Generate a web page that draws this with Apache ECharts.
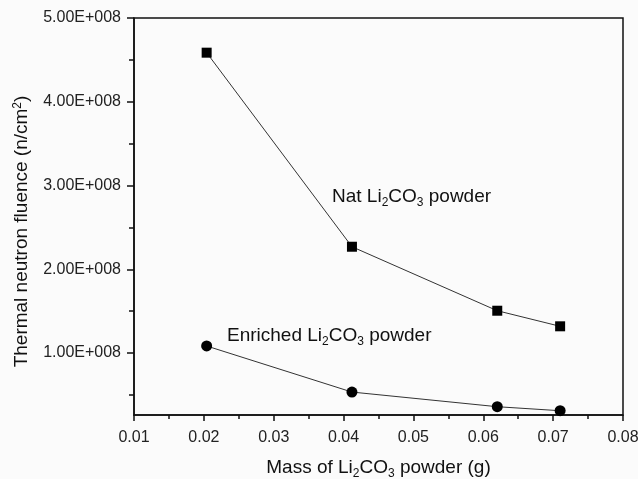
<!DOCTYPE html>
<html><head><meta charset="utf-8">
<script src="https://cdn.jsdelivr.net/npm/echarts@6/dist/echarts.min.js"></script>
<style>html,body{margin:0;padding:0;background:#fbfbfb}#c{width:638px;height:479px}</style>
</head><body><div id="c"></div>
<script>
var massG = [0.0204, 0.0412, 0.0620, 0.0710];
var natFluence = [4.586e8, 2.269e8, 1.505e8, 1.319e8];
var enrichedFluence = [1.084e8, 0.534e8, 0.359e8, 0.311e8];
var yMajorTicks = [1e8, 2e8, 3e8, 4e8, 5e8];
var yMinorTicks = [0.5e8, 1.5e8, 2.5e8, 3.5e8, 4.5e8];
var natLabel = 'Nat Li{sub|2}CO{sub|3} powder';
var enrLabel = 'Enriched Li{sub|2}CO{sub|3} powder';

var FONT = 'Liberation Sans, Arial, sans-serif';
var chart = echarts.init(document.getElementById('c'));
var rich = {
  sub: {fontSize: 12, fontFamily: FONT, color: '#111', verticalAlign: 'bottom', padding: [12, 0, 0, 0]},
  sup: {fontSize: 12, fontFamily: FONT, color: '#111', verticalAlign: 'top', padding: [0, 0, 8, 0]}
};
function pairs(ys) { return massG.map(function (x, i) { return [x, ys[i]]; }); }
var yMin = 2.6e7, yMax = 5e8;
chart.setOption({
  backgroundColor: '#fbfbfb',
  animation: false,
  grid: {left: 134, right: 15, top: 18, bottom: 64, outerBoundsMode: 'none', containLabel: false,
    show: true, borderColor: '#111', borderWidth: 1.5, backgroundColor: 'transparent'},
  xAxis: {
    type: 'value', min: 0.01, max: 0.08, interval: 0.01,
    name: 'Mass of Li{sub|2}CO{sub|3} powder (g)', nameLocation: 'middle', nameGap: 41,
    nameTextStyle: {fontSize: 19, fontFamily: FONT, color: '#111', rich: rich},
    axisLine: {show: true, lineStyle: {color: '#111', width: 1.5}},
    axisTick: {show: true, length: 6, lineStyle: {color: '#111', width: 1.5}},
    minorTick: {show: true, splitNumber: 2, length: 4, lineStyle: {color: '#111', width: 1.5}},
    axisLabel: {fontSize: 16, fontFamily: FONT, color: '#222', margin: 15, formatter: function (v) { return v.toFixed(2); }},
    splitLine: {show: false}
  },
  yAxis: [{
    type: 'value', min: yMin, max: yMax,
    name: 'Thermal neutron fluence (n/cm{sup|2})', nameLocation: 'middle', nameGap: 102,
    nameTextStyle: {fontSize: 19, fontFamily: FONT, color: '#111', rich: rich, padding: [0, 30, 0, 0]},
    axisLine: {show: true, lineStyle: {color: '#111', width: 1.5}},
    axisTick: {show: true, length: 7, customValues: yMajorTicks, lineStyle: {color: '#111', width: 1.5}},
    axisLabel: {fontSize: 16, fontFamily: FONT, color: '#222', margin: 13, customValues: yMajorTicks,
      formatter: function (v) { return (v / 1e8).toFixed(2) + 'E+008'; }},
    splitLine: {show: false}
  }, {
    type: 'value', min: yMin, max: yMax, position: 'left',
    axisLine: {show: false},
    axisTick: {show: true, length: 5, customValues: yMinorTicks, lineStyle: {color: '#111', width: 1.5}},
    axisLabel: {show: false},
    splitLine: {show: false}
  }],
  series: [{
    type: 'line', name: 'Nat', data: pairs(natFluence), yAxisIndex: 0,
    symbol: 'rect', symbolSize: 10,
    lineStyle: {color: '#333', width: 1},
    itemStyle: {color: '#000'}
  }, {
    type: 'line', name: 'Enriched', data: pairs(enrichedFluence), yAxisIndex: 0,
    symbol: 'circle', symbolSize: 11,
    lineStyle: {color: '#333', width: 1},
    itemStyle: {color: '#000'}
  }],
  graphic: [{
    type: 'text', left: 332, top: 187,
    style: {text: natLabel, fontSize: 19, fontFamily: FONT, fill: '#111', rich: rich}
  }, {
    type: 'text', left: 227, top: 326,
    style: {text: enrLabel, fontSize: 19, fontFamily: FONT, fill: '#111', rich: rich}
  }]
});
</script></body></html>
